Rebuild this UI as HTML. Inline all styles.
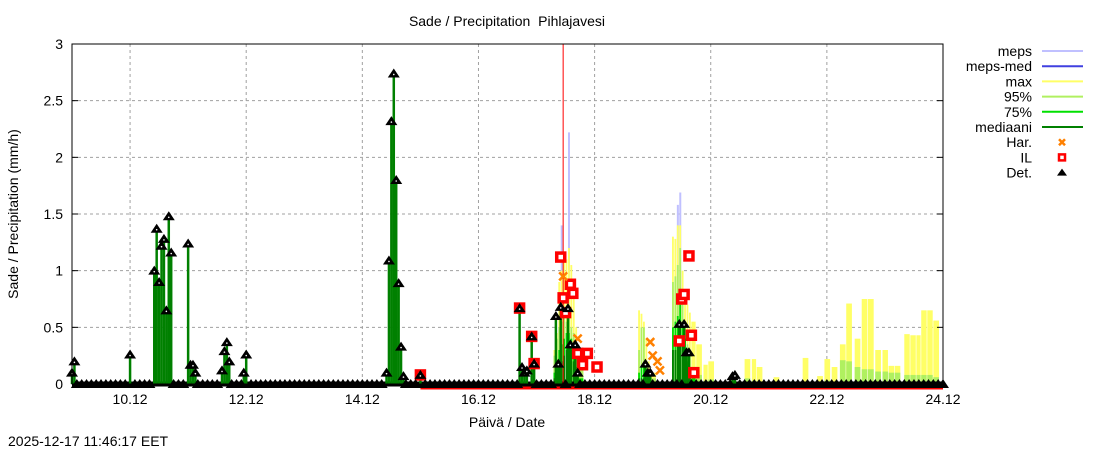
<!DOCTYPE html>
<html><head><meta charset="utf-8"><style>
body{margin:0;background:#fff;}
svg text{font-family:"Liberation Sans",sans-serif;fill:#000;}
</style></head><body>
<svg id="chart" width="1100" height="450" xmlns="http://www.w3.org/2000/svg">
<rect width="1100" height="450" fill="#fff"/>
<text x="507" y="26" font-size="14" text-anchor="middle" xml:space="preserve">Sade / Precipitation  Pihlajavesi</text>
<text transform="translate(18,214) rotate(-90)" font-size="14" text-anchor="middle">Sade / Precipitation (mm/h)</text>
<text x="507" y="427" font-size="14" text-anchor="middle">Päivä / Date</text>
<text x="8" y="446" font-size="14">2025-12-17 11:46:17 EET</text>
<g id="grid"></g><g id="bars"></g><g id="marks"></g><g id="axes"></g><g id="legend"></g>
</svg>
<script>
// hours since 9.12 00:00
const yTicks=[0,0.5,1,1.5,2,2.5,3];
const yTickLabels=["0","0.5","1","1.5","2","2.5","3"];
const xTickHours=[24,72,120,168,216,264,312,360];
const xTickLabels=["10.12","12.12","14.12","16.12","18.12","20.12","22.12","24.12"];
const nowHour=203;
// ensemble
const ensT=[199,200,201,202,203,204,205,206,207,208,209,234,235,236,237,238,239,248,249,250,251,252,253,254,255,256,258,261,263,278,281,283,290,300,302,308,311,314,317.4,320,323.5,326.4,329,332,335,337.5,340,344,346.5,349,351,353.5,356];
const ensMax=[0.3,0.45,0.9,1.0,1.15,1.1,1.2,1.05,0.8,0.5,0.3,0.65,0.62,0.55,0.4,0.2,0.1,1.3,1.28,1.4,1.4,1.0,0.72,0.7,0.63,0.55,0.35,0.17,0.2,0.22,0.22,0.15,0.06,0.01,0.23,0.07,0.22,0.15,0.35,0.71,0.4,0.75,0.75,0.3,0.3,0.16,0.16,0.44,0.43,0.43,0.65,0.65,0.56];
const ens95=[0.25,0.4,0.5,0.55,0.6,0.55,0.6,0.5,0.45,0.3,0.15,0.3,0.5,0.5,0.2,0.1,0.05,0.9,0.95,1.05,1.2,0.75,0.55,0.35,0.3,0.12,0.08,0.03,0.04,0.05,0.03,0.02,0,0,0.02,0,0.03,0.02,0.21,0.2,0.15,0.13,0.13,0.11,0.11,0.1,0.1,0.08,0.08,0.08,0.08,0.08,0.06];
const ens75=[0.1,0.2,0.3,0.35,0.4,0.45,0.45,0.4,0.3,0.15,0.05,0.1,0.15,0.15,0.08,0.03,0,0.5,0.55,0.6,0.7,0.5,0.4,0.2,0.15,0.05,0.02,0,0,0,0,0,0,0,0,0,0,0,0.02,0.02,0.02,0.02,0.02,0.02,0.02,0.02,0.02,0.02,0.02,0.02,0.02,0.02,0.02];
const ensMed=[0.05,0.1,0.15,0.2,0.25,0.3,0.35,0.3,0.2,0.1,0.02,0.05,0.05,0.05,0.03,0.01,0,0.3,0.3,0.4,0.5,0.35,0.25,0.15,0.1,0.02,0,0,0,0,0,0,0,0,0,0,0,0,0,0,0,0,0,0,0,0,0,0,0,0,0,0,0];
const mepsT=[202,205,250,251];
const mepsV=[1.4,2.22,1.58,1.69];
// deterministic
const detT=[0,1,24,34,35,36,37,38,39,40,41,48,49,50,51,62,63,64,65,71,72,130,131,132,133,134,135,136,137,144,185,186,187,188,190,191,200,201,202,205,206,208,209,237,238,239,251,253,254,255,273,274];
const detV=[0.1,0.2,0.26,1.0,1.37,0.9,1.22,1.28,0.65,1.48,1.16,1.24,0.17,0.17,0.1,0.12,0.29,0.37,0.2,0.1,0.26,0.1,1.09,2.32,2.74,1.8,0.89,0.33,0.07,0.08,0.67,0.15,0.1,0.12,0.42,0.18,0.6,0.18,0.68,0.67,0.35,0.35,0.1,0.18,0.1,0.1,0.53,0.53,0.28,0.28,0.07,0.08];
const ilT=[144,185,190,191,202,203,204,206,207,209,211,213,217,251,252,253,255,256,257];
const ilV=[0.08,0.67,0.42,0.18,1.12,0.76,0.63,0.88,0.8,0.27,0.17,0.27,0.15,0.38,0.75,0.79,1.13,0.43,0.1];
const harT=[203,209,239,240,242,243];
const harV=[0.95,0.4,0.37,0.25,0.2,0.12];

const NS="http://www.w3.org/2000/svg";
const X0=72,X1=943,Y0=384,Y1=44,H=360;
const xs=h=>X0+h/H*(X1-X0);
const ys=v=>Y0-v/3*(Y0-Y1);
function mk(g,tag,at){const e=document.createElementNS(NS,tag);for(const k in at)e.setAttribute(k,at[k]);document.getElementById(g).appendChild(e);return e;}

yTicks.forEach((v,i)=>{
 if(v>0&&v<3){const l=mk('grid','line',{x1:X0,x2:X1,y1:ys(v),y2:ys(v),stroke:'#a0a0a0','stroke-dasharray':'3,3'});
 
 }
 const t=mk('axes','text',{x:63,y:ys(v)+5,'font-size':14,'text-anchor':'end'});t.textContent=yTickLabels[i];
 
 
 mk('axes','line',{x1:X0,x2:X0+6,y1:ys(v),y2:ys(v),stroke:'#000'});
 mk('axes','line',{x1:X1,x2:X1-6,y1:ys(v),y2:ys(v),stroke:'#000'});
});
xTickHours.forEach((h,i)=>{
 if(h<H){const l=mk('grid','line',{x1:xs(h),x2:xs(h),y1:Y1,y2:Y0,stroke:'#a0a0a0','stroke-dasharray':'3,3'});
 
 }
 const t=mk('axes','text',{x:xs(h),y:404,'font-size':14,'text-anchor':'middle'});t.textContent=xTickLabels[i];
 
 
});
const fr=mk('axes','rect',{x:X0,y:Y1,width:X1-X0,height:Y0-Y1,fill:'none',stroke:'#000'});



// meps
mepsT.forEach((t,i)=>{const l=mk('bars','line',{x1:xs(t)+1,x2:xs(t)+1,y1:Y0,y2:ys(mepsV[i]),stroke:'#c0c0ff','stroke-width':2});
 
 });
// ensemble bars
ensT.forEach((t,i)=>{
 const nxt=i<ensT.length-1?ensT[i+1]-t:2.6;const w=Math.min(nxt,2.6)*(X1-X0)/H-0.6;
 [[ensMax,'#ffff66','max-bar'],[ens95,'#b0f060','p95-bar'],[ens75,'#00e000','p75-bar'],[ensMed,'#008000','median-bar']].forEach(([a,c,n])=>{
  if(a[i]>0){const r=mk('bars','rect',{x:xs(t),y:ys(a[i]),width:Math.max(w,1.8),height:Y0-ys(a[i]),fill:c});
  
  }
 });
});
// baselines
mk('marks','line',{x1:xs(144),x2:X1,y1:Y0+3,y2:Y0+3,stroke:'#f00','stroke-width':5});
mk('marks','line',{x1:X0,x2:X1,y1:Y0,y2:Y0,stroke:'#000','stroke-width':5});
// det stems
detT.forEach((t,i)=>{const l=mk('marks','line',{x1:xs(t),x2:xs(t),y1:Y0,y2:ys(detV[i]),stroke:'#008000','stroke-width':2.5});
 
 });
// now line
const nl=mk('marks','line',{x1:xs(nowHour),x2:xs(nowHour),y1:Y1,y2:Y0,stroke:'#f00','stroke-width':1});


// IL
ilT.forEach((t,i)=>{const r=mk('marks','rect',{x:xs(t)-4,y:ys(ilV[i])-4,width:8,height:8,fill:'#fff',stroke:'#f00','stroke-width':3.5});
 
 });
// Har
harT.forEach((t,i)=>{const x=xs(t),y=ys(harV[i]);const p=mk('marks','path',{d:`M${x-4},${y-4}L${x+4},${y+4}M${x-4},${y+4}L${x+4},${y-4}`,stroke:'#ff8000','stroke-width':2.5});
 
 });
// Det triangles
function tri(x,y){return `M${x},${y-5}L${x+6},${y+4}L${x-6},${y+4}Z`;}
for(let h=0;h<=360;h+=2){if(!detT.includes(h)){mk('marks','path',{d:tri(xs(h),Y0),fill:'#000'});}}
detT.forEach((t,i)=>{const p=mk('marks','path',{d:tri(xs(t),ys(detV[i])),fill:'#000'});
 
 
 mk('marks','circle',{cx:xs(t),cy:ys(detV[i])+1,r:0.8,fill:'#fff'});});

// legend
const legNames=["meps","meps-med","max","95%","75%","mediaani","Har.","IL","Det."];
const legColors=["#c0c0ff","#4040e0","#ffff66","#b0f060","#00e000","#008000","#ff8000","#f00","#000"];
legNames.forEach((n,i)=>{const y=56+i*15.2;
 const t=mk('legend','text',{x:1032,y:y,'font-size':14,'text-anchor':'end'});t.textContent=n;
 
 
 const cy=y-5,cx=1062;
 if(i<6)mk('legend','line',{x1:1042,x2:1083,y1:cy,y2:cy,stroke:legColors[i],'stroke-width':2});
 else if(i==6)mk('legend','path',{d:`M${cx-3},${cy-3}L${cx+3},${cy+3}M${cx-3},${cy+3}L${cx+3},${cy-3}`,stroke:legColors[i],'stroke-width':2.5});
 else if(i==7)mk('legend','rect',{x:cx-3,y:cy-3,width:6,height:6,fill:'#fff',stroke:'#f00','stroke-width':2.5});
 else mk('legend','path',{d:`M${cx},${cy-4}L${cx+5},${cy+3}L${cx-5},${cy+3}Z`,fill:'#000'});
});
</script>
</body></html>
